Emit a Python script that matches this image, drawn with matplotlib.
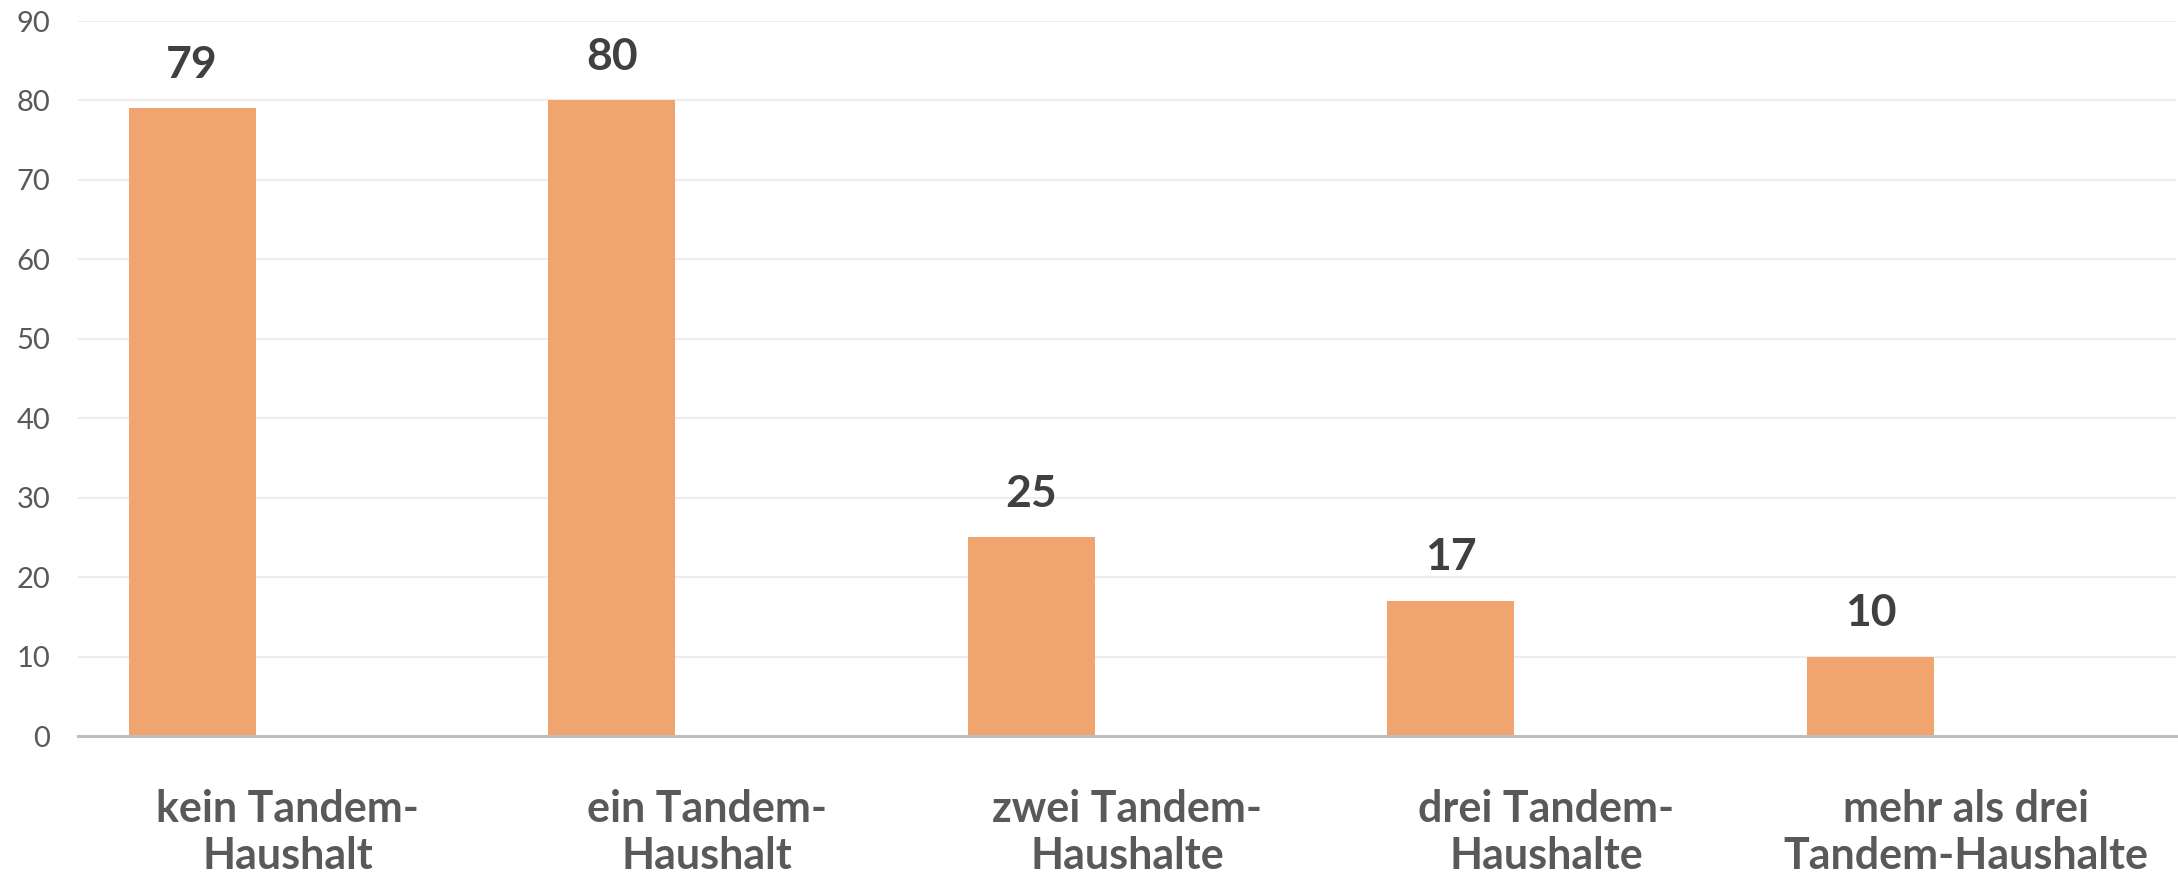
import numpy as np
import matplotlib
matplotlib.use("Agg")
import matplotlib.pyplot as plt

# data
categories = ["kein Tandem-\nHaushalt", "ein Tandem-\nHaushalt", "zwei Tandem-\nHaushalte",
              "drei Tandem-\nHaushalte", "mehr als drei\nTandem-Haushalte"]
values = [79, 80, 25, 17, 10]
yticks = [0, 10, 20, 30, 40, 50, 60, 70, 80, 90]

plt.rcParams['font.family'] = ['Lato', 'DejaVu Sans']

fig = plt.figure(figsize=(21.78, 8.76), dpi=100)
ax = fig.add_axes([0.0358, 0.1598, 0.9632, 0.8162])

x = np.arange(len(categories))
bar_offset = -0.228
bar_width = 0.303
bars = ax.bar(x + bar_offset, values, width=bar_width, color="#F0A46E", zorder=3)

for xi, v in zip(x, values):
    ax.text(xi + bar_offset, v + 3.0, str(v), ha="center", va="bottom",
            fontsize=32, fontweight="bold", color="#404040")

ax.set_xlim(-0.5, len(categories) - 0.5)
ax.set_ylim(0, 90)
ax.set_yticks(yticks)
ax.set_xticks(x)
ax.set_xticklabels(categories, fontsize=31, fontweight="bold", color="#595959",
                   linespacing=1.22)
ax.tick_params(axis="both", length=0)
ax.tick_params(axis="x", pad=38)
ax.tick_params(axis="y", labelsize=21, labelcolor="#595959", pad=20)

ax.grid(axis="y", color="#EDEDED", linewidth=1.5, zorder=0)
for s in ["left", "right", "top"]:
    ax.spines[s].set_visible(False)
ax.spines["bottom"].set_color("#BFBFBF")
ax.spines["bottom"].set_linewidth(2.2)
ax.spines["bottom"].set_zorder(4)

fig.savefig("out.png", dpi=100)
